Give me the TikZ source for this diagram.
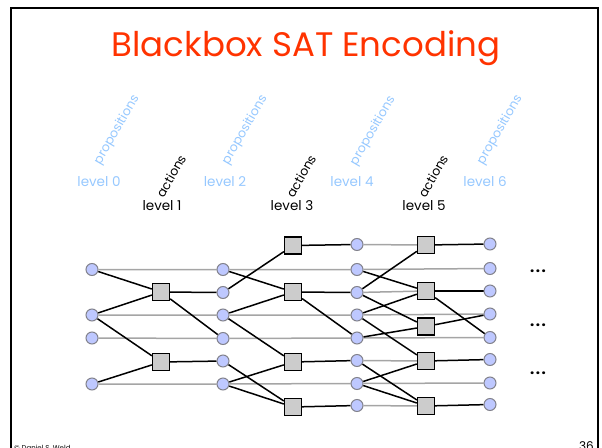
\documentclass[tikz,border=0pt]{standalone}
\usepackage{fontspec}
\setmainfont{Poppins}
\usetikzlibrary{backgrounds}
\definecolor{propfill}{RGB}{190,200,255}
\definecolor{propline}{RGB}{130,130,140}
\definecolor{actfill}{RGB}{204,204,204}
\definecolor{noopgray}{RGB}{165,165,165}
\definecolor{labelblue}{RGB}{150,200,255}
\definecolor{titlered}{RGB}{255,51,0}
\tikzset{
  prop/.style={circle, inner sep=0pt, minimum size=12pt, fill=propfill, draw=propline, line width=1pt},
  act/.style={rectangle, inner sep=0pt, minimum size=17pt, fill=actfill, draw=black, line width=1.3pt},
  noop/.style={draw=noopgray, line width=1.5pt},
  link/.style={draw=black, line width=1.5pt},
  proplabel/.style={text=labelblue, font=\fontsize{13.5}{15}\selectfont, inner sep=0pt},
  actlabel/.style={text=black, font=\fontsize{13.5}{15}\selectfont, inner sep=0pt},
  slanted/.style={rotate=60, inner sep=0pt, font=\fontsize{12.5}{14}\selectfont},
  moremark/.style={font=\fontsize{15}{17}\selectfont\bfseries, inner sep=0pt},
}
\begin{document}
\begin{tikzpicture}[x=1pt, y=-1pt]
\useasboundingbox (0,0) rectangle (602,447);
\clip (0,0) rectangle (602,447);

% slide frame
\draw[line width=2pt] (11,460) -- (11,8) -- (598,8) -- (598,460);

% title
\node[text=titlered, font=\fontsize{34}{40}\selectfont, anchor=base] (title) at (306,56) {Blackbox SAT Encoding};

% column headings
\node[proplabel] (lv0) at (99,182) {level 0};
\node[proplabel] (lv2) at (225,182) {level 2};
\node[proplabel] (lv4) at (352,182) {level 4};
\node[proplabel] (lv6) at (485,182) {level 6};
\node[actlabel] (lv1) at (162,206) {level 1};
\node[actlabel] (lv3) at (292,206) {level 3};
\node[actlabel] (lv5) at (424,206) {level 5};

\node[slanted, text=labelblue] (pp0) at (117,130) {propositions};
\node[slanted, text=labelblue] (pp2) at (245,130) {propositions};
\node[slanted, text=labelblue] (pp4) at (373,131) {propositions};
\node[slanted, text=labelblue] (pp6) at (500,130) {propositions};
\node[slanted] (ac1) at (171,176) {actions};
\node[slanted] (ac3) at (301,176) {actions};
\node[slanted] (ac5) at (433,176) {actions};

% proposition level 0
\node[prop] (p0B) at (92,269.5) {};
\node[prop] (p0D) at (92,315) {};
\node[prop] (p0E) at (92,338) {};
\node[prop] (p0G) at (92,384) {};
% action level 1
\node[act] (a1C) at (161,292) {};
\node[act] (a1F) at (161,362) {};
% proposition level 2
\node[prop] (p2B) at (223,269.5) {};
\node[prop] (p2C) at (223,292.5) {};
\node[prop] (p2D) at (223,315) {};
\node[prop] (p2E) at (223,338.5) {};
\node[prop] (p2F) at (223,361) {};
\node[prop] (p2G) at (223,384) {};
% action level 3
\node[act] (a3A) at (293,245.5) {};
\node[act] (a3C) at (293,292) {};
\node[act] (a3F) at (293,362) {};
\node[act] (a3H) at (293,407) {};
% proposition level 4
\node[prop] (p4A) at (357,244.5) {};
\node[prop] (p4B) at (357,269.5) {};
\node[prop] (p4C) at (357,292.5) {};
\node[prop] (p4D) at (357,315) {};
\node[prop] (p4E) at (357,338) {};
\node[prop] (p4F) at (357,360.5) {};
\node[prop] (p4G) at (357,383.5) {};
\node[prop] (p4H) at (357,405.5) {};
% action level 5
\node[act] (a5A) at (426,245) {};
\node[act] (a5C) at (426,291) {};
\node[act] (a5M) at (426,326.5) {};
\node[act] (a5F) at (426,361) {};
\node[act] (a5H) at (426,406) {};
% proposition level 6
\node[prop] (p6A) at (490,244) {};
\node[prop] (p6B) at (490,268.5) {};
\node[prop] (p6C) at (490,291) {};
\node[prop] (p6D) at (490,314) {};
\node[prop] (p6E) at (490,337.5) {};
\node[prop] (p6F) at (490,359.5) {};
\node[prop] (p6G) at (490,383) {};
\node[prop] (p6H) at (490,404.5) {};

\begin{scope}[on background layer]
% persistence (no-op) links
\draw[noop] (p0B) -- (p2B) -- (p4B) -- (p6B);
\draw[noop] (p0D) -- (p2D) -- (p4D) -- (p6D);
\draw[noop] (p0E) -- (p2E) -- (p4E) -- (p6E);
\draw[noop] (p0G) -- (p2G) -- (p4G) -- (p6G);
\draw[noop] (p4A) -- (a5A);
\draw[noop] (p4C) -- (a5C);
\draw[noop] (p4F) -- (a5F);
\draw[noop] (p4H) -- (a5H);
% preconditions and effects
\draw[link] (p0B) -- (a1C);
\draw[link] (p0D) -- (a1C);
\draw[link] (p0D) -- (a1F);
\draw[link] (p0G) -- (a1F);
\draw[link] (a1C) -- (p2C);
\draw[link] (a1C) -- (p2E);
\draw[link] (a1F) -- (p2F);
\draw[link] (p2B) -- (a3C);
\draw[link] (p2C) -- (a3A);
\draw[link] (p2D) -- (a3C);
\draw[link] (p2D) -- (a3F);
\draw[link] (p2F) -- (a3H);
\draw[link] (p2G) -- (a3F);
\draw[link] (p2G) -- (a3H);
\draw[link] (a3A) -- (p4A);
\draw[link] (a3C) -- (p4C);
\draw[link] (a3C) -- (p4E);
\draw[link] (a3F) -- (p4F);
\draw[link] (a3H) -- (p4H);
\draw[link] (p4B) -- (a5C);
\draw[link] (p4C) -- (a5A);
\draw[link] (p4C) -- (a5M);
\draw[link] (p4D) -- (a5C);
\draw[link] (p4D) -- (a5F);
\draw[link] (p4E) -- (a5M);
\draw[link] (p4F) -- (a5H);
\draw[link] (p4G) -- (a5F);
\draw[link] (p4G) -- (a5H);
\draw[link] (a5A) -- (p6A);
\draw[link] (a5C) -- (p6C);
\draw[link] (a5C) -- (p6E);
\draw[link] (a5M) -- (p6D);
\draw[link] (a5F) -- (p6F);
\draw[link] (a5H) -- (p6H);
\end{scope}

% continuation marks
\node[moremark] (more1) at (538,271) {.\kern1.5pt.\kern1.5pt.};
\node[moremark] (more2) at (538,325) {.\kern1.5pt.\kern1.5pt.};
\node[moremark] (more3) at (538,373) {.\kern1.5pt.\kern1.5pt.};

% footer
\node[anchor=base west, font=\fontsize{7}{8}\selectfont, inner sep=0pt] (credit) at (14,450) {© Daniel S. Weld};
\node[anchor=base east, font=\fontsize{12}{14}\selectfont, inner sep=0pt] (pageno) at (594,450) {36};
\end{tikzpicture}
\end{document}
